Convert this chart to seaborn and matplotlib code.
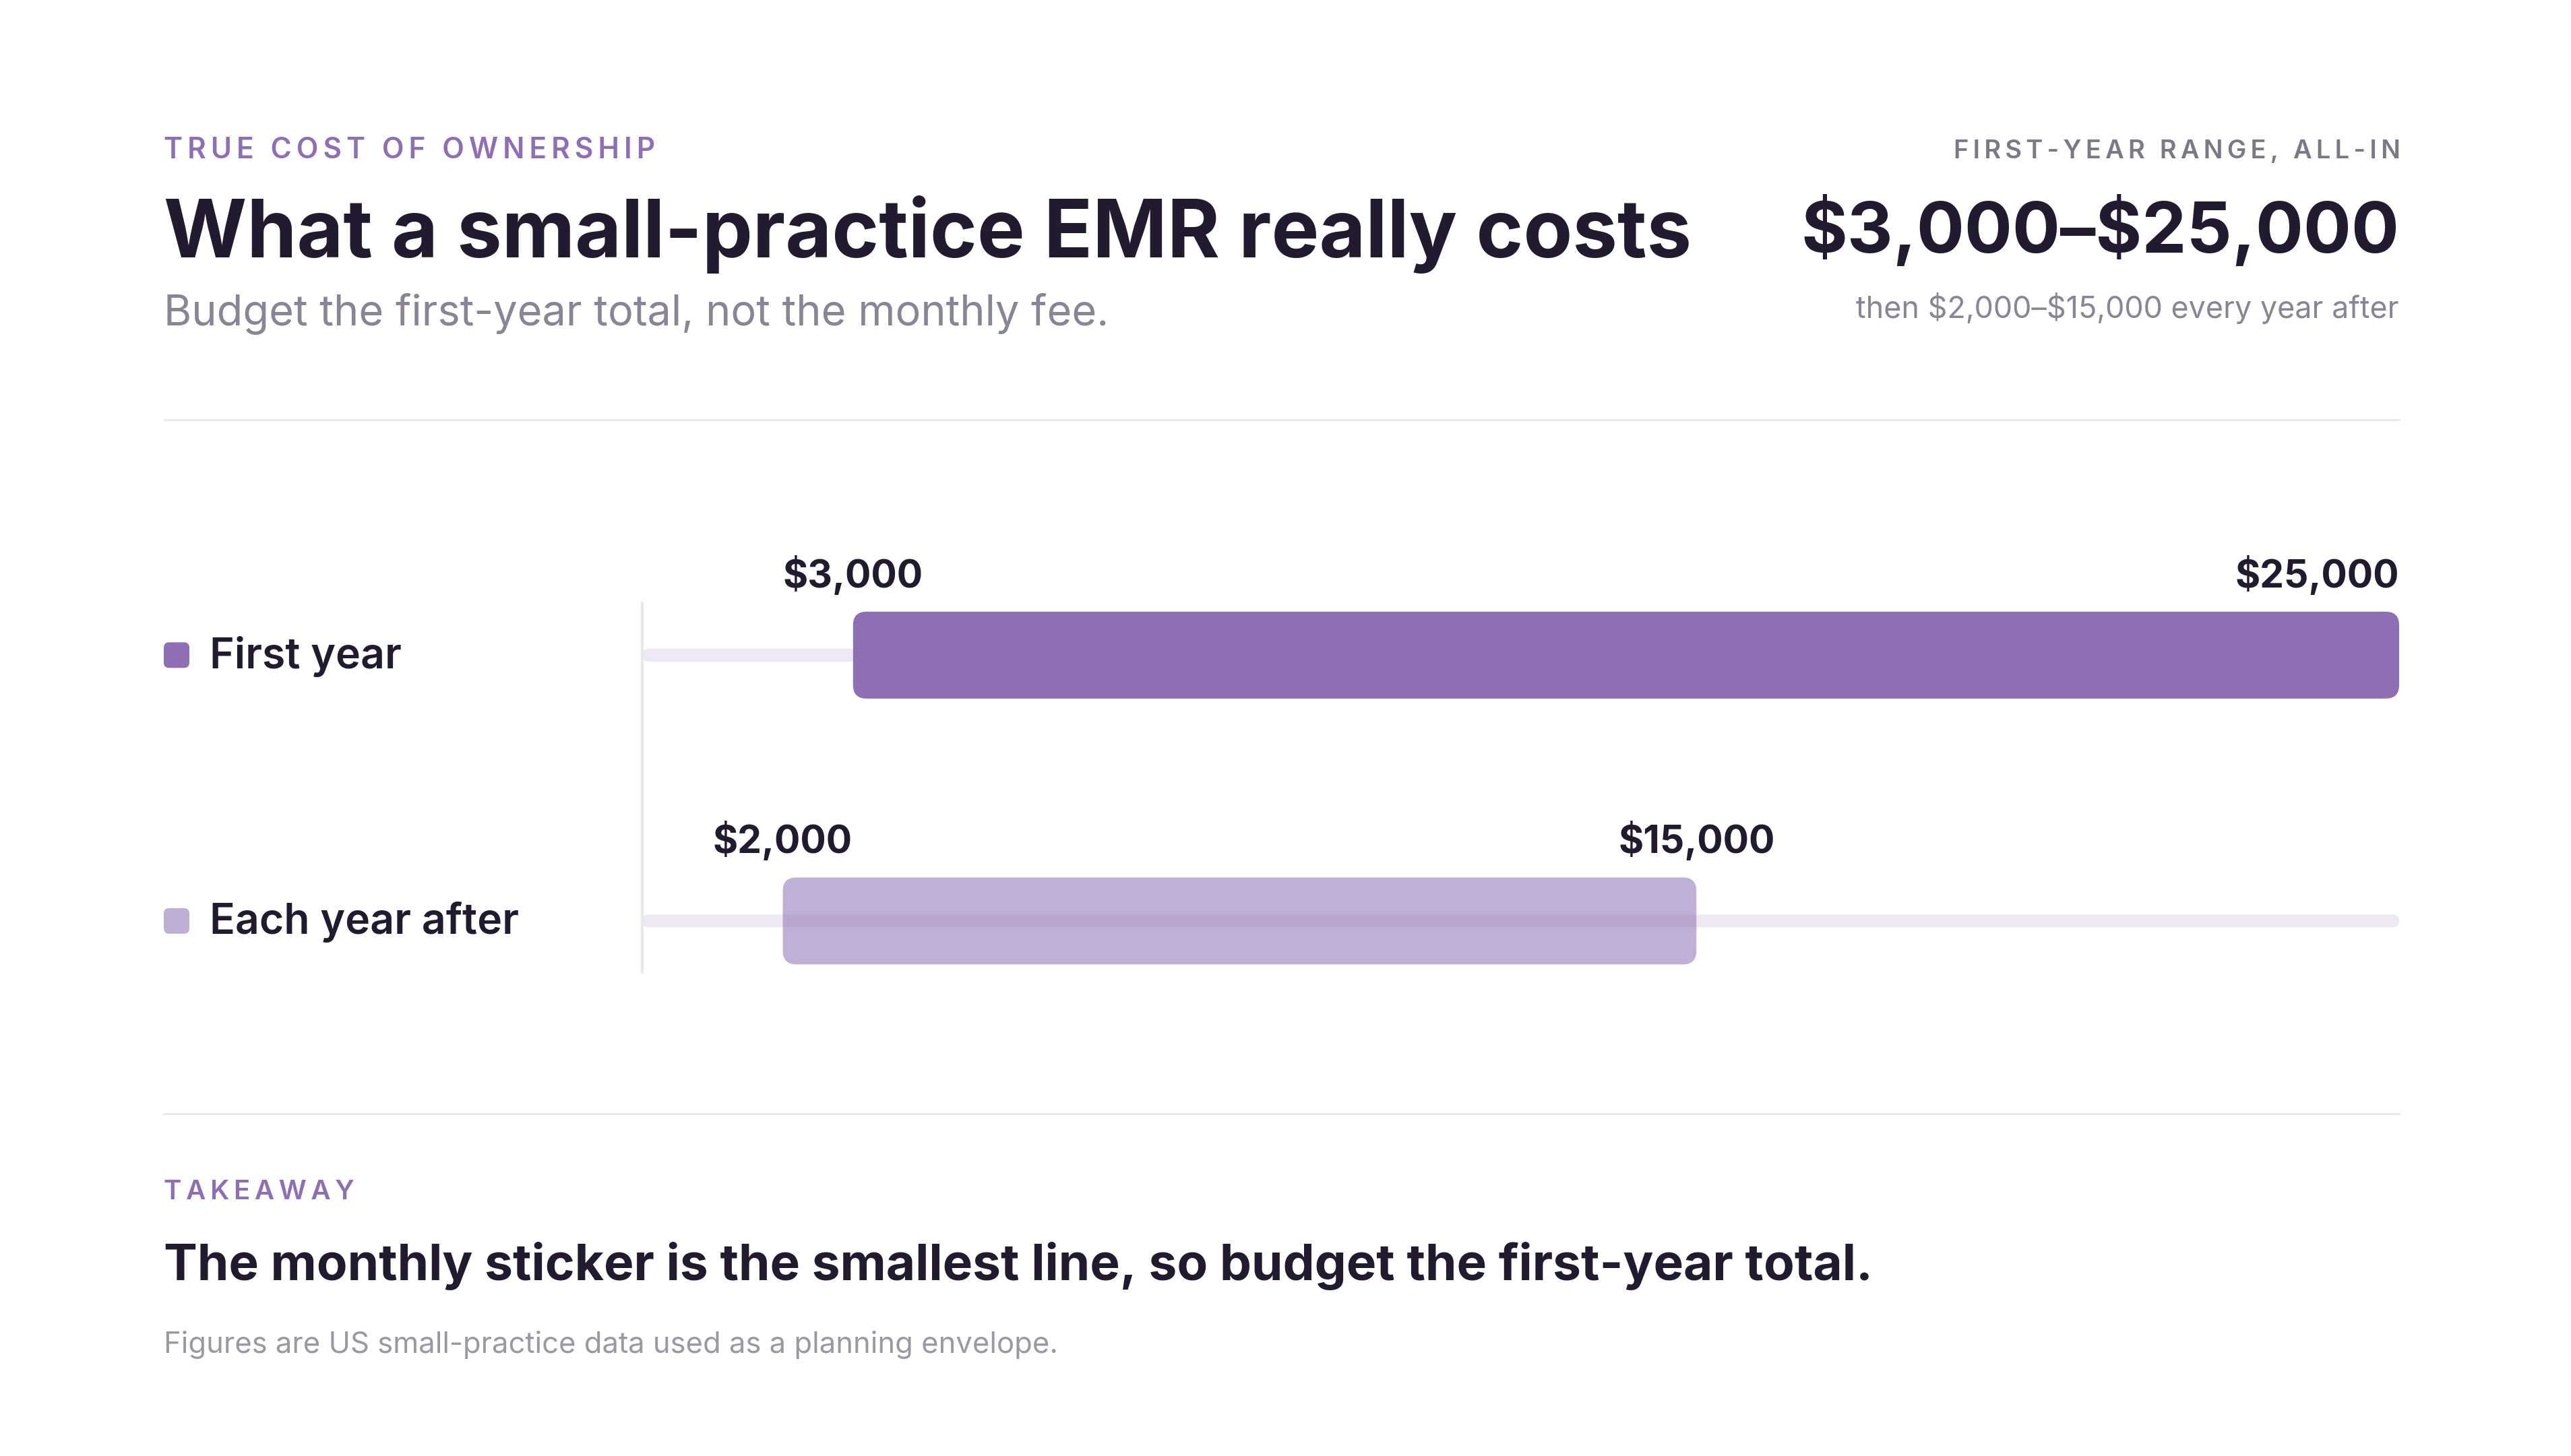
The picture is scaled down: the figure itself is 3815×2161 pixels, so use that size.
import matplotlib
matplotlib.use("Agg")
import matplotlib.pyplot as plt
import seaborn as sns
from matplotlib.patches import FancyBboxPatch
from matplotlib.lines import Line2D
from matplotlib.transforms import IdentityTransform, blended_transform_factory

# data
categories = ["First year", "Each year after"]
low = [3000, 2000]
high = [25000, 15000]
axis_max = 25000

W, H, DPI = 3815, 2161, 100
FONT = ["Inter", "DejaVu Sans"]
DARK = "#221b2f"
PURPLE = "#8e6fb3"
LIGHT_PURPLE = "#c0afd5"
TRACK = "#ede8f4"
GRAY = "#8a8496"
RULE = "#ebe8ef"

sns.set_theme(style="white")
plt.rcParams["font.family"] = FONT

fig = plt.figure(figsize=(W / DPI, H / DPI), dpi=DPI)
fig.patch.set_facecolor("white")
renderer = fig.canvas.get_renderer()


def fx(px):
    return px / W


def fy(px):
    return 1 - px / H


def fit(t, width_px):
    w = t.get_window_extent(renderer).width
    t.set_fontsize(t.get_fontsize() * width_px / w)
    return t


def tracked(s):
    return "\u2009".join(s)


def money(v):
    return f"\\${v:,}"


# header
fit(fig.text(fx(243), fy(235), tracked("TRUE COST OF OWNERSHIP"), size=29,
             weight="semibold", color=PURPLE), 728)
fit(fig.text(fx(243), fy(382), "What a small-practice EMR really costs",
             size=89, weight="bold", color=DARK), 2268)
fit(fig.text(fx(243), fy(482), "Budget the first-year total, not the monthly fee.",
             size=44, color=GRAY), 1402)

fit(fig.text(fx(3562), fy(235), tracked("FIRST-YEAR RANGE, ALL-IN"), size=25,
             weight="semibold", color="#7d7885", ha="right"), 664)
fit(fig.text(fx(3560), fy(375), f"{money(low[0])}\u2013{money(high[0])}",
             size=81, weight="bold", color=DARK, ha="right"), 886)
fit(fig.text(fx(3560), fy(472), f"then {money(low[1])}\u2013{money(high[1])} every year after",
             size=30, color=GRAY, ha="right"), 806)

for y in (623, 1653):
    fig.add_artist(Line2D([fx(243), fx(3560)], [fy(y), fy(y)], color=RULE, lw=2.2))

# chart
ax = fig.add_axes([fx(953), fy(1443), (3560 - 953) / W, (1443 - 895) / H])
sns.barplot(x=[axis_max] * len(categories), y=categories, color=TRACK,
            saturation=1, width=0.048, errorbar=None, ax=ax)
pos = list(range(len(categories)))
bar_h = 0.327
ax.barh(pos, [h - l for l, h in zip(low, high)], left=low, height=bar_h)

ax.set_xlim(0, axis_max)
ax.set_ylim(1.193, -0.196)
ax.set_xticks([])
ax.set_yticks([])
ax.set_xlabel("")
ax.set_ylabel("")
for side in ("top", "right", "bottom"):
    ax.spines[side].set_visible(False)
ax.spines["left"].set_color("#e9e7ec")
ax.spines["left"].set_linewidth(2.9)
ax.set_facecolor("none")

# rounded bars
sx = ax.transData.transform((1, 0))[0] - ax.transData.transform((0, 0))[0]
sy = abs(ax.transData.transform((0, 1))[1] - ax.transData.transform((0, 0))[1])
styles = [(TRACK, 1.0, 1), (TRACK, 1.0, 1), (PURPLE, 1.0, 2), (PURPLE, 0.55, 2)]
old = list(ax.patches)
for p, (c, a, z) in zip(old, styles):
    x, y, w, h = p.get_x(), p.get_y(), p.get_width(), p.get_height()
    r = min(20, abs(h) * sy / 2)
    ax.add_patch(FancyBboxPatch((x, y), w, h,
                                boxstyle=f"round,pad=0,rounding_size={r / sx}",
                                mutation_aspect=sx / sy, fc=c, ec="none",
                                alpha=a, zorder=z))
    p.remove()

# value labels
for i in pos:
    yb = i - bar_h / 2 - 0.092
    ax.text(low[i], yb, money(low[i]), ha="center", va="baseline",
            size=41, weight="bold", color=DARK)
    ax.text(high[i], yb, money(high[i]), ha="right" if high[i] >= axis_max else "center",
            va="baseline", size=41, weight="bold", color=DARK)

# category labels with swatches
lab_tr = blended_transform_factory(fig.transFigure, ax.transData)
for i, (cat, col) in enumerate(zip(categories, [PURPLE, LIGHT_PURPLE])):
    ax.text(fx(311), i + 0.049, cat, transform=lab_tr, ha="left", va="baseline",
            size=45, weight="semibold", color=DARK)
    cy = ax.transData.transform((0, i))[1]
    fig.add_artist(FancyBboxPatch((243, cy - 19), 38, 38,
                                  boxstyle="round,pad=0,rounding_size=8",
                                  fc=col, ec="none", transform=IdentityTransform()))

# takeaway
fit(fig.text(fx(243), fy(1780), tracked("TAKEAWAY"), size=29, weight="semibold",
             color=PURPLE), 283)
fit(fig.text(fx(243), fy(1900),
             "The monthly sticker is the smallest line, so budget the first-year total.",
             size=55, weight="bold", color=DARK), 2533)
fit(fig.text(fx(243), fy(2008), "Figures are US small-practice data used as a planning envelope.",
             size=30, color="#9c98a3"), 1326)

fig.savefig("out.png", dpi=DPI, facecolor="white")
